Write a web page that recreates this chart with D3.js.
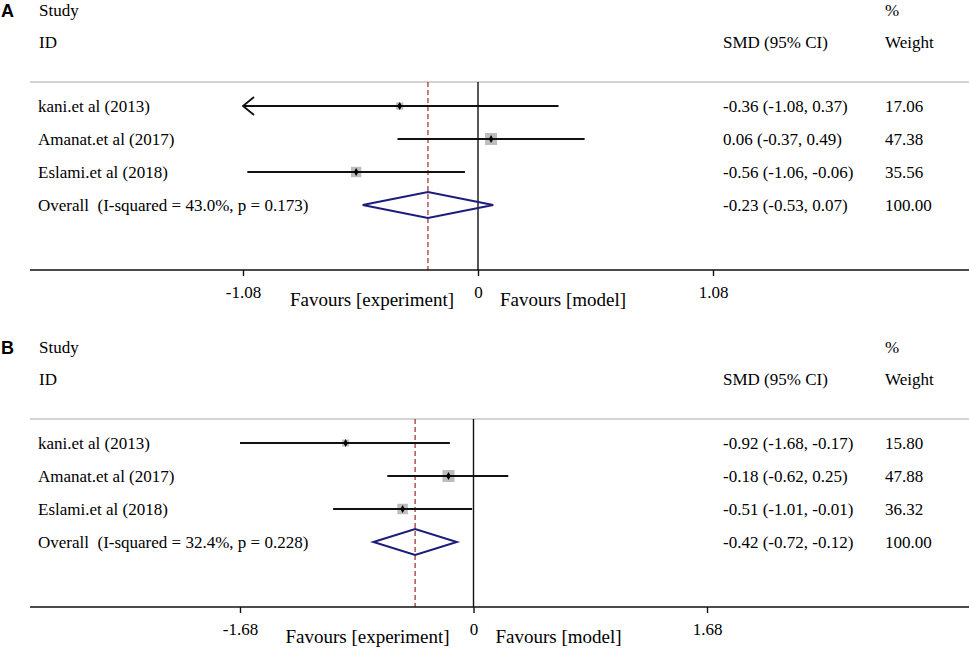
<!DOCTYPE html>
<html>
<head>
	<meta charset="UTF-8" />
	<title>forest plot</title>
	<script src="https://d3js.org/d3.v7.min.js"></script>
	<style>
		body { margin: 0; background: #fff; }
		text { font-family: "Liberation Serif", "Times New Roman", serif; font-size: 17px; fill: #000; }
		.panel-letter { font-family: "Liberation Sans", Arial, sans-serif; font-weight: bold; font-size: 18px; }
		.favours { font-size: 19px; }
	</style>
</head>
<body>
	<svg id="chart" width="969" height="649"></svg>

	<script type="text/javascript">
	// data
	const studies = ["kani.et al (2013)", "Amanat.et al (2017)", "Eslami.et al (2018)"]

	const smdA = [-0.36, 0.06, -0.56]
	const lowA = [-1.08, -0.37, -1.06]
	const highA = [0.37, 0.49, -0.06]
	const weightA = [17.06, 47.38, 35.56]
	const clippedA = [true, false, false]
	const overallA = [-0.23, -0.53, 0.07]   // est, low, high
	const hetA = ["43.0%", "0.173"]
	const ticksA = [-1.08, 0, 1.08]

	const smdB = [-0.92, -0.18, -0.51]
	const lowB = [-1.68, -0.62, -1.01]
	const highB = [-0.17, 0.25, -0.01]
	const weightB = [15.80, 47.88, 36.32]
	const clippedB = [false, false, false]
	const overallB = [-0.42, -0.72, -0.12]
	const hetB = ["32.4%", "0.228"]
	const ticksB = [-1.68, 0, 1.68]

	// colours
	const gray = "#c4c4c4"
	const box = "#bdbdbd"
	const navy = "#1c1c7c"
	const red = "#a8383c"

	const svg = d3.select("#chart")
	// plain hyphen for negatives, like the stata output
	const f2 = d3.formatLocale({ decimal: ".", thousands: ",", grouping: [3], currency: ["", ""], minus: "-" }).format(".2f")

	function drawPanel(letter, top, smd, low, high, weight, clipped, overall, het, ticks, xRange) {
		const g = svg.append("g").attr("transform", `translate(0, ${top})`)

		const x = d3.scaleLinear().domain([ticks[0], ticks[2]]).range(xRange)
		const side = d3.scaleSqrt().domain([0, 100]).range([0, 17.4])

		const lineTop = 82, axisY = 270
		const rowY = i => 106 + i * 33

		// header texts
		g.append("text").attr("class", "panel-letter").attr("x", 1).attr("y", 17).text(letter)
		g.append("text").attr("x", 39).attr("y", 16).text("Study")
		g.append("text").attr("x", 39).attr("y", 48).text("ID")
		g.append("text").attr("x", 723).attr("y", 48).text("SMD (95% CI)")
		g.append("text").attr("x", 885).attr("y", 16).text("%")
		g.append("text").attr("x", 885).attr("y", 48).text("Weight")

		g.append("line").attr("x1", 30).attr("x2", 969).attr("y1", lineTop).attr("y2", lineTop)
			.style("stroke", gray).style("stroke-width", 1.5)

		// null line and overall dashed line
		g.append("line").attr("x1", x(0)).attr("x2", x(0)).attr("y1", lineTop).attr("y2", axisY)
			.style("stroke", "#111").style("stroke-width", 1.4)
		g.append("line").attr("x1", x(overall[0])).attr("x2", x(overall[0])).attr("y1", lineTop).attr("y2", axisY)
			.style("stroke", red).style("stroke-width", 1.3).style("stroke-dasharray", "5,3")

		const rows = studies.map((s, i) => ({ name: s, smd: smd[i], low: low[i], high: high[i], w: weight[i], clip: clipped[i], i: i }))

		// boxes
		g.selectAll("rect.box").data(rows).enter().append("rect")
			.attr("class", "box")
			.attr("x", d => x(d.smd) - side(d.w) / 2)
			.attr("y", d => rowY(d.i) - side(d.w) / 2)
			.attr("width", d => side(d.w))
			.attr("height", d => side(d.w))
			.style("fill", box)

		// CI lines
		g.selectAll("line.ci").data(rows).enter().append("line")
			.attr("class", "ci")
			.attr("x1", d => x(d.low)).attr("x2", d => x(d.high))
			.attr("y1", d => rowY(d.i)).attr("y2", d => rowY(d.i))
			.style("stroke", "#111").style("stroke-width", 1.8)

		// arrows on clipped CIs
		g.selectAll("path.arrow").data(rows.filter(d => d.clip)).enter().append("path")
			.attr("class", "arrow")
			.attr("d", d => `M${x(d.low) + 11},${rowY(d.i) - 9} L${x(d.low)},${rowY(d.i)} L${x(d.low) + 11},${rowY(d.i) + 9}`)
			.style("fill", "none").style("stroke", "#111").style("stroke-width", 1.8)

		// point estimates
		g.selectAll("path.pt").data(rows).enter().append("path")
			.attr("class", "pt")
			.attr("transform", d => `translate(${x(d.smd)}, ${rowY(d.i)})`)
			.attr("d", d3.symbol(d3.symbolDiamond, 18))
			.style("fill", "#000")

		// overall diamond
		const oy = rowY(3)
		g.append("path")
			.attr("d", `M${x(overall[1])},${oy} L${x(overall[0])},${oy - 13} L${x(overall[2])},${oy} L${x(overall[0])},${oy + 13} Z`)
			.style("fill", "none").style("stroke", navy).style("stroke-width", 2)

		// left labels
		g.selectAll("text.study").data(rows).enter().append("text")
			.attr("class", "study")
			.attr("x", 38).attr("y", d => rowY(d.i) + 6)
			.text(d => d.name)
		g.append("text").attr("x", 38).attr("y", oy + 6).attr("xml:space", "preserve")
			.text(`Overall  (I-squared = ${het[0]}, p = ${het[1]})`)

		// right columns
		g.selectAll("text.smd").data(rows).enter().append("text")
			.attr("class", "smd")
			.attr("x", 723).attr("y", d => rowY(d.i) + 6)
			.text(d => `${f2(d.smd)} (${f2(d.low)}, ${f2(d.high)})`)
		g.append("text").attr("x", 723).attr("y", oy + 6)
			.text(`${f2(overall[0])} (${f2(overall[1])}, ${f2(overall[2])})`)

		g.selectAll("text.wt").data(rows).enter().append("text")
			.attr("class", "wt")
			.attr("x", 885).attr("y", d => rowY(d.i) + 6)
			.text(d => f2(d.w))
		g.append("text").attr("x", 885).attr("y", oy + 6).text(f2(100))

		// axis
		g.append("line").attr("x1", 30).attr("x2", 969).attr("y1", axisY).attr("y2", axisY)
			.style("stroke", "#111").style("stroke-width", 1.4)

		const axis = d3.axisBottom(x)
			.tickValues(ticks)
			.tickSize(6)
			.tickPadding(10)
			.tickFormat(d => d === 0 ? "0" : f2(d))

		const ax = g.append("g").attr("transform", `translate(0, ${axisY})`).call(axis)
		ax.select(".domain").remove()
		ax.selectAll(".tick line").style("stroke", "#111").style("stroke-width", 1.4)
		ax.selectAll(".tick text").style("font-family", "Liberation Serif, serif").style("font-size", "17px").style("fill", "#000")

		g.append("text").attr("class", "favours").attr("x", x(0) - 24).attr("y", axisY + 36).attr("text-anchor", "end")
			.text("Favours [experiment]")
		g.append("text").attr("class", "favours").attr("x", x(0) + 22).attr("y", axisY + 36)
			.text("Favours [model]")
	}

	drawPanel("A", 0, smdA, lowA, highA, weightA, clippedA, overallA, hetA, ticksA, [243, 713])
	drawPanel("B", 337, smdB, lowB, highB, weightB, clippedB, overallB, hetB, ticksB, [240, 707])
	</script>
</body>
</html>
